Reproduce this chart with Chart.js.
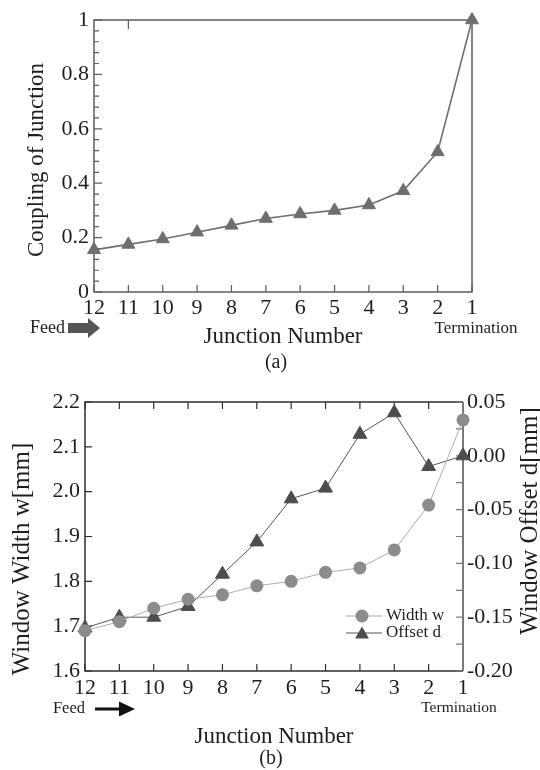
<!DOCTYPE html>
<html>
<head>
<meta charset="utf-8">
<title>Junction coupling and window dimensions</title>
<script src="https://cdn.jsdelivr.net/npm/chart.js@4.4.1/dist/chart.umd.min.js"></script>
<style>
  html, body { margin: 0; padding: 0; background: #fff; }
  canvas { position: absolute; left: 0; }
  #chartA { top: 0; }
  #chartB { top: 380px; }
</style>
</head>
<body>
<canvas id="chartA" width="540" height="380"></canvas>
<canvas id="chartB" width="540" height="390"></canvas>
<script>
// Junction numbers, feed side (12) to termination (1)
const junctions = [12, 11, 10, 9, 8, 7, 6, 5, 4, 3, 2, 1];

// (a) coupling of each junction
const coupling = [0.155, 0.175, 0.195, 0.22, 0.245, 0.27, 0.287, 0.30, 0.32, 0.372, 0.515, 1.0];

// (b) window width w [mm] and window offset d [mm]
const widthW = [1.69, 1.71, 1.74, 1.76, 1.77, 1.79, 1.80, 1.82, 1.83, 1.87, 1.97, 2.16];
const offsetD = [-0.16, -0.15, -0.15, -0.14, -0.11, -0.08, -0.04, -0.03, 0.02, 0.04, -0.01, 0.00];

const SERIF = "'Liberation Serif', 'DejaVu Serif', serif";
const INK = '#1e1e1e';

Chart.defaults.font.family = SERIF;
Chart.defaults.color = INK;
Chart.defaults.animation = false;

function pts(ys) {
  return junctions.map((j, i) => ({ x: j, y: ys[i] }));
}

function text(ctx, str, x, y, size, align, rot) {
  ctx.save();
  ctx.translate(x, y);
  if (rot) ctx.rotate(rot);
  ctx.font = size + 'px ' + SERIF;
  ctx.fillStyle = INK;
  ctx.textAlign = align || 'center';
  ctx.textBaseline = 'middle';
  ctx.fillText(str, 0, 0);
  ctx.restore();
}

function triangle(ctx, x, y, r) {
  ctx.beginPath();
  ctx.moveTo(x, y - r);
  ctx.lineTo(x + 0.866 * r, y + 0.5 * r);
  ctx.lineTo(x - 0.866 * r, y + 0.5 * r);
  ctx.closePath();
  ctx.fill();
}

// ---------------- (a) ----------------
const decorA = {
  id: 'decorA',
  beforeDatasetsDraw(chart) {
    const { ctx, chartArea: a, scales: { x, y } } = chart;
    ctx.save();
    ctx.strokeStyle = '#5c5c5c';
    ctx.lineWidth = 1.5;
    ctx.strokeRect(a.left, a.top, a.right - a.left, a.bottom - a.top);
    ctx.lineWidth = 1.2;
    ctx.beginPath();
    junctions.forEach(j => {
      const px = x.getPixelForValue(j);
      ctx.moveTo(px, a.bottom);
      ctx.lineTo(px, a.bottom - 7);
    });
    // single stray tick on the top edge, as in the original figure
    const t11 = x.getPixelForValue(11);
    ctx.moveTo(t11, a.top);
    ctx.lineTo(t11, a.top + 9);
    for (let i = 0; i <= 25; i++) {
      const py = y.getPixelForValue(i * 0.04);
      ctx.moveTo(a.left, py);
      ctx.lineTo(a.left + (i % 5 ? 5 : 8), py);
    }
    ctx.stroke();
    ctx.restore();
  },
  afterDraw(chart) {
    const ctx = chart.ctx;
    text(ctx, 'Coupling of Junction', 37, 160, 23, 'center', -Math.PI / 2);
    text(ctx, 'Feed', 65, 328, 18, 'right');
    // block arrow next to "Feed"
    ctx.save();
    ctx.fillStyle = '#555';
    ctx.beginPath();
    ctx.moveTo(68, 323); ctx.lineTo(88, 323); ctx.lineTo(88, 318);
    ctx.lineTo(100, 328); ctx.lineTo(88, 338); ctx.lineTo(88, 333);
    ctx.lineTo(68, 333);
    ctx.closePath();
    ctx.fill();
    ctx.restore();
    text(ctx, 'Termination', 476, 329, 17);
    text(ctx, '(a)', 276, 363, 20);
  }
};

new Chart(document.getElementById('chartA'), {
  type: 'line',
  data: {
    datasets: [{
      data: pts(coupling),
      borderColor: '#6e6e6e',
      borderWidth: 1.6,
      pointStyle: 'triangle',
      pointRadius: 7.5,
      pointBackgroundColor: '#6e6e6e',
      pointBorderColor: '#6e6e6e',
      pointBorderWidth: 1,
      tension: 0,
      clip: false
    }]
  },
  options: {
    responsive: false,
    layout: { padding: { left: 0, right: 68, top: 20, bottom: 0 } },
    plugins: { legend: { display: false }, tooltip: { enabled: false } },
    scales: {
      x: {
        type: 'linear', reverse: true, min: 1, max: 12,
        grid: { display: false, drawTicks: false }, border: { display: false },
        ticks: { stepSize: 1, padding: 3, font: { size: 22 }, maxRotation: 0 },
        title: { display: true, text: 'Junction Number', font: { size: 23 }, padding: { top: 0, bottom: 29 } },
        afterFit: s => { s.height = 88; }
      },
      y: {
        min: 0, max: 1,
        grid: { display: false, drawTicks: false }, border: { display: false },
        ticks: { stepSize: 0.2, padding: 5, font: { size: 22 },
                 callback: v => String(parseFloat(v.toFixed(2))) },
        afterFit: s => { s.width = 94; }
      }
    }
  },
  plugins: [decorA]
});

// ---------------- (b) ----------------
const decorB = {
  id: 'decorB',
  beforeDatasetsDraw(chart) {
    const { ctx, chartArea: a, scales: { x, yW, yD } } = chart;
    ctx.save();
    ctx.strokeStyle = '#2e2e2e';
    ctx.lineWidth = 1.5;
    ctx.beginPath();
    ctx.moveTo(a.right, a.top); ctx.lineTo(a.left, a.top);
    ctx.lineTo(a.left, a.bottom); ctx.lineTo(a.right, a.bottom);
    ctx.stroke();
    ctx.lineWidth = 1.2;
    ctx.beginPath();
    junctions.forEach(j => {
      const px = x.getPixelForValue(j);
      ctx.moveTo(px, a.bottom); ctx.lineTo(px, a.bottom - 7);
      ctx.moveTo(px, a.top); ctx.lineTo(px, a.top + 7);
    });
    for (let i = 0; i <= 6; i++) {
      const py = yW.getPixelForValue(1.6 + i * 0.1);
      ctx.moveTo(a.left, py); ctx.lineTo(a.left + 7, py);
    }
    ctx.stroke();
    // right axis (offset d)
    ctx.strokeStyle = '#7a7a7a';
    ctx.lineWidth = 2;
    ctx.beginPath();
    ctx.moveTo(a.right, a.top); ctx.lineTo(a.right, a.bottom);
    ctx.stroke();
    ctx.lineWidth = 1.2;
    ctx.beginPath();
    for (let i = 0; i <= 10; i++) {
      const py = yD.getPixelForValue(-0.2 + i * 0.025);
      ctx.moveTo(a.right, py); ctx.lineTo(a.right - 7, py);
    }
    ctx.stroke();
    ctx.restore();
  },
  afterDraw(chart) {
    const ctx = chart.ctx;
    const ds = chart.data.datasets;
    text(ctx, 'Window Width w[mm]', 22, 179, 25, 'center', -Math.PI / 2);
    text(ctx, 'Window Offset d[mm]', 530, 141, 25, 'center', -Math.PI / 2);
    text(ctx, 'Feed', 85, 329, 16.5, 'right');
    ctx.save();
    ctx.strokeStyle = '#111';
    ctx.fillStyle = '#111';
    ctx.lineWidth = 3;
    ctx.beginPath(); ctx.moveTo(95, 329); ctx.lineTo(121, 329); ctx.stroke();
    ctx.beginPath(); ctx.moveTo(119, 321.5); ctx.lineTo(135, 329); ctx.lineTo(119, 336.5); ctx.closePath(); ctx.fill();
    ctx.restore();
    text(ctx, 'Termination', 459, 328, 15.5);
    text(ctx, '(b)', 271, 379, 20);

    // legend
    ctx.save();
    [[ds[0], 236], [ds[1], 253]].forEach(([d, ly]) => {
      ctx.strokeStyle = d.borderColor;
      ctx.lineWidth = d.borderWidth;
      ctx.beginPath(); ctx.moveTo(346, ly); ctx.lineTo(382, ly); ctx.stroke();
      ctx.fillStyle = d.pointBackgroundColor;
      if (d.pointStyle === 'triangle') {
        triangle(ctx, 362, ly + 1.5, d.pointRadius);
      } else {
        ctx.beginPath(); ctx.arc(362, ly, d.pointRadius, 0, Math.PI * 2); ctx.fill();
      }
      text(ctx, d.label, 386, ly, 17, 'left');
    });
    ctx.restore();
  }
};

new Chart(document.getElementById('chartB'), {
  type: 'line',
  data: {
    datasets: [{
      label: 'Width w',
      data: pts(widthW),
      yAxisID: 'yW',
      borderColor: '#ababab',
      borderWidth: 1,
      pointStyle: 'circle',
      pointRadius: 6.5,
      pointBackgroundColor: '#8c8c8c',
      pointBorderColor: '#8c8c8c',
      pointBorderWidth: 0,
      tension: 0,
      clip: false
    }, {
      label: 'Offset d',
      data: pts(offsetD),
      yAxisID: 'yD',
      borderColor: '#555',
      borderWidth: 1,
      pointStyle: 'triangle',
      pointRadius: 8,
      pointBackgroundColor: '#4d4d4d',
      pointBorderColor: '#4d4d4d',
      pointBorderWidth: 1,
      tension: 0,
      clip: false
    }]
  },
  options: {
    responsive: false,
    layout: { padding: { left: 0, right: 0, top: 22, bottom: 0 } },
    plugins: { legend: { display: false }, tooltip: { enabled: false } },
    scales: {
      x: {
        type: 'linear', reverse: true, min: 1, max: 12,
        grid: { display: false, drawTicks: false }, border: { display: false },
        ticks: { stepSize: 1, padding: 4, font: { size: 22 }, maxRotation: 0 },
        title: { display: true, text: 'Junction Number', font: { size: 23 }, padding: { top: 0, bottom: 19 } },
        afterFit: s => { s.height = 99; }
      },
      yW: {
        position: 'left', min: 1.6, max: 2.2,
        grid: { display: false, drawTicks: false }, border: { display: false },
        ticks: { stepSize: 0.1, padding: 5, font: { size: 22 }, callback: v => v.toFixed(1) },
        afterFit: s => { s.width = 85; }
      },
      yD: {
        position: 'right', min: -0.2, max: 0.05,
        grid: { display: false, drawTicks: false }, border: { display: false },
        ticks: { stepSize: 0.05, padding: 4, font: { size: 22 },
                 callback: v => (Math.abs(v) < 1e-9 ? 0 : v).toFixed(2) },
        afterFit: s => { s.width = 77; }
      }
    }
  },
  plugins: [decorB]
});
</script>
</body>
</html>
